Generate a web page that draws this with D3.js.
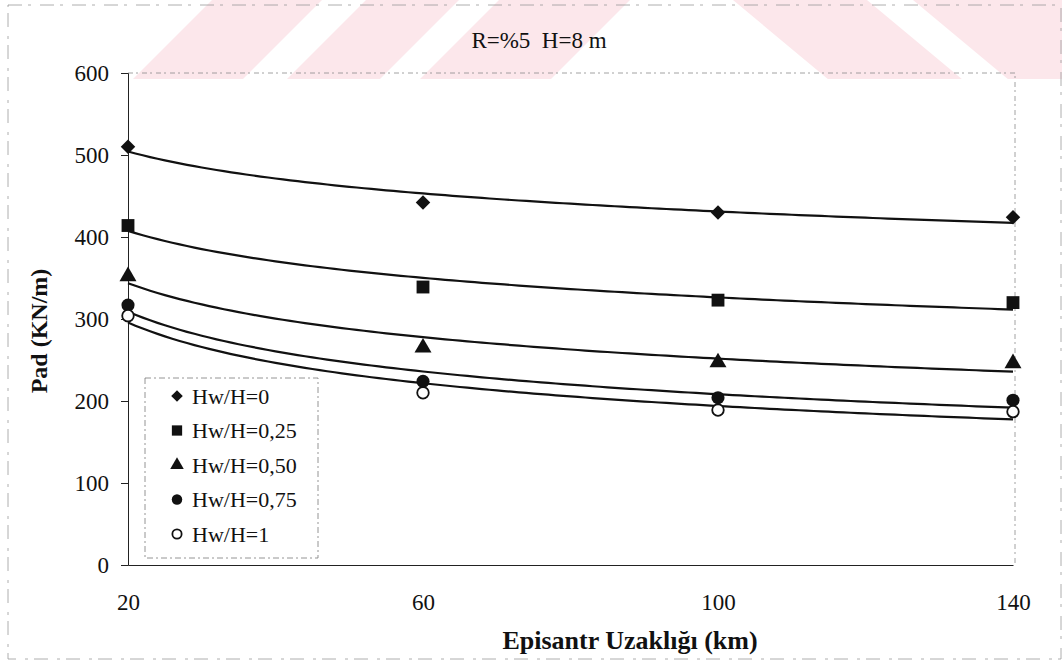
<!DOCTYPE html>
<html>
<head>
<meta charset="utf-8">
<script src="https://cdn.jsdelivr.net/npm/d3@7"></script>
<style>
  html, body { margin: 0; padding: 0; background: #fff; }
  svg { display: block; }
  text { font-family: "Liberation Serif", "Times New Roman", serif; fill: #111; }
</style>
</head>
<body>
<svg id="chart" width="1062" height="662"></svg>
<script>
// Distances from the epicentre (km)
const distances = [20, 60, 100, 140];

// Series labels (water level ratio)
const seriesNames = ["Hw/H=0", "Hw/H=0,25", "Hw/H=0,50", "Hw/H=0,75", "Hw/H=1"];

// Pad (kN/m) for each water level ratio
const padHw000 = [510, 442, 430, 424];
const padHw025 = [414, 339, 323, 320];
const padHw050 = [352, 265, 247, 246];
const padHw075 = [317, 224, 204, 201];
const padHw100 = [304, 210, 189, 187];

// Axis ticks
const xTickValues = [20, 60, 100, 140];
const yTickValues = [0, 100, 200, 300, 400, 500, 600];

const titleText = "R=%5  H=8 m";
const xTitle = "Episantr Uzaklığı (km)";
const yTitle = "Pad (KN/m)";

const seriesValues = [padHw000, padHw025, padHw050, padHw075, padHw100];
const markerKinds = ["diamond", "square", "triangle", "circle", "openCircle"];

const svg = d3.select("#chart");

// Layout of the plotting area
const plot = { left: 128, right: 1013, top: 73, bottom: 565 };

const x = d3.scaleLinear().domain([20, 140]).range([plot.left, plot.right]);
const y = d3.scaleLinear().domain([0, 600]).range([plot.bottom, plot.top]);

// ---- faint pink banded emblem along the top edge ----
const band = svg.append("g");
const bandColor = "#fce7eb";
const bandBottom = 79;
// rising bands: edges given at the bottom edge, leaning right going up
[[133, 243], [287, 380], [420, 551]].forEach(([a, b]) => {
  const s = 1.0 * bandBottom;
  band.append("polygon")
    .attr("points", [[a, bandBottom], [b, bandBottom], [b + s, 0], [a + s, 0]].map(p => p.join(",")).join(" "))
    .attr("fill", bandColor);
});
// falling bands: edges given at the top edge, leaning right going down
[[733, 867], [913, 1120]].forEach(([a, b]) => {
  const s = 1.2 * bandBottom;
  band.append("polygon")
    .attr("points", [[a, 0], [b, 0], [b + s, bandBottom], [a + s, bandBottom]].map(p => p.join(",")).join(" "))
    .attr("fill", bandColor);
});

// ---- outer frame of the chart (faint, broken) ----
svg.append("rect")
  .attr("x", 8).attr("y", 5).attr("width", 1053).attr("height", 654)
  .attr("fill", "none").attr("stroke", "#9a9a9a").attr("stroke-width", 0.8)
  .attr("stroke-dasharray", "14 6 3 9");

// ---- plot area frame (top and right, dotted) ----
svg.append("path")
  .attr("d", `M${plot.left},${plot.top}H${plot.right + 2}V${plot.bottom}`)
  .attr("fill", "none").attr("stroke", "#8a8a8a").attr("stroke-width", 0.8)
  .attr("stroke-dasharray", "5 3 2 4");

// ---- title ----
svg.append("text")
  .attr("x", 539).attr("y", 48)
  .attr("text-anchor", "middle")
  .attr("font-size", 23)
  .style("white-space", "pre")
  .text(titleText);

// ---- axes ----
const yAxis = d3.axisLeft(y).tickValues(yTickValues).tickSize(7).tickPadding(12).tickFormat(d3.format("d"));
const gy = svg.append("g").attr("transform", `translate(${plot.left},0)`).call(yAxis);
gy.select(".domain").attr("stroke", "#222").attr("stroke-width", 1);
gy.selectAll(".tick line").attr("stroke", "#222").attr("stroke-width", 1);
gy.selectAll(".tick text").attr("font-size", 23).attr("font-family", "Liberation Serif").attr("fill", "#111");

const xAxis = d3.axisBottom(x).tickValues(xTickValues).tickSize(0).tickPadding(29).tickFormat(d3.format("d"));
const gx = svg.append("g").attr("transform", `translate(0,${plot.bottom})`).call(xAxis);
gx.select(".domain").attr("stroke", "#222").attr("stroke-width", 1.2);
gx.selectAll(".tick text").attr("font-size", 23).attr("font-family", "Liberation Serif").attr("fill", "#111");

// axis titles
svg.append("text")
  .attr("x", 630).attr("y", 649)
  .attr("text-anchor", "middle")
  .attr("font-size", 26).attr("font-weight", "bold")
  .text(xTitle);

svg.append("text")
  .attr("transform", "translate(47,331) rotate(-90)")
  .attr("text-anchor", "middle")
  .attr("font-size", 24).attr("font-weight", "bold")
  .text(yTitle);

// ---- power trendlines (least squares in log-log space) ----
function powerFit(xs, ys) {
  const lx = xs.map(Math.log), ly = ys.map(Math.log);
  const mx = d3.mean(lx), my = d3.mean(ly);
  let sxy = 0, sxx = 0;
  lx.forEach((v, i) => { sxy += (v - mx) * (ly[i] - my); sxx += (v - mx) ** 2; });
  const b = sxy / sxx;
  const a = Math.exp(my - b * mx);
  return t => a * Math.pow(t, b);
}

const samples = d3.range(20, 140.001, 1);
const line = d3.line().x(d => x(d[0])).y(d => y(d[1])).curve(d3.curveLinear);

const trends = svg.append("g");
seriesValues.forEach(vals => {
  const f = powerFit(distances, vals);
  trends.append("path")
    .datum(samples.map(t => [t, f(t)]))
    .attr("d", line)
    .attr("fill", "none")
    .attr("stroke", "#111")
    .attr("stroke-width", 2.2);
});

// ---- markers ----
function drawMarker(g, kind, cx, cy, scale) {
  const k = scale || 1;
  if (kind === "diamond") {
    g.append("path").attr("d", d3.symbol(d3.symbolSquare, 105 * k * k)())
      .attr("transform", `translate(${cx},${cy}) rotate(45)`).attr("fill", "#111");
  } else if (kind === "square") {
    g.append("path").attr("d", d3.symbol(d3.symbolSquare, 165 * k * k)())
      .attr("transform", `translate(${cx},${cy})`).attr("fill", "#111");
  } else if (kind === "triangle") {
    g.append("path").attr("d", d3.symbol(d3.symbolTriangle, 125 * k * k)())
      .attr("transform", `translate(${cx},${cy})`).attr("fill", "#111");
  } else if (kind === "circle") {
    g.append("path").attr("d", d3.symbol(d3.symbolCircle, 135 * k * k)())
      .attr("transform", `translate(${cx},${cy})`).attr("fill", "#111");
  } else {
    g.append("path").attr("d", d3.symbol(d3.symbolCircle, 105 * k * k)())
      .attr("transform", `translate(${cx},${cy})`).attr("fill", "#fff")
      .attr("stroke", "#111").attr("stroke-width", 1.8);
  }
}

const marks = svg.append("g");
seriesValues.forEach((vals, si) => {
  vals.forEach((v, i) => drawMarker(marks, markerKinds[si], x(distances[i]), y(v), 1));
});

// ---- legend ----
const legend = svg.append("g");
legend.append("rect")
  .attr("x", 145).attr("y", 378).attr("width", 173).attr("height", 180)
  .attr("fill", "#fff").attr("stroke", "#7a7a7a").attr("stroke-width", 0.8)
  .attr("stroke-dasharray", "6 3 2 3");

seriesNames.forEach((name, i) => {
  const ly = 396 + i * 34.5;
  drawMarker(legend, markerKinds[i], 177, ly, 0.8);
  legend.append("text")
    .attr("x", 192).attr("y", ly)
    .attr("dy", "0.35em")
    .attr("font-size", 22)
    .text(name);
});
</script>
</body>
</html>
